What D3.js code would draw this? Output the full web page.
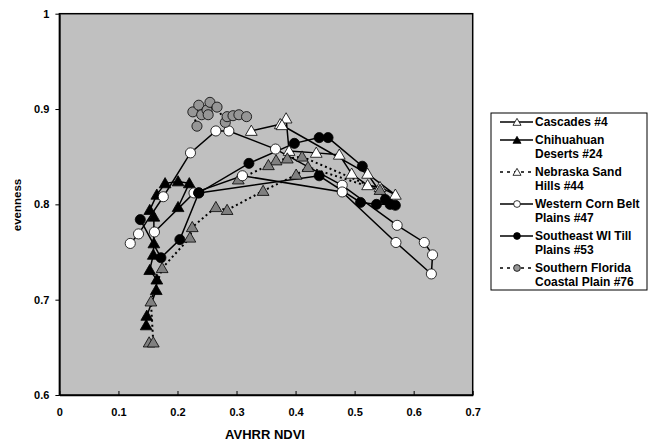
<!DOCTYPE html>
<html><head><meta charset="utf-8">
<script src="https://cdn.jsdelivr.net/npm/d3@7"></script>
<style>body{margin:0;background:#fff}svg{display:block}text{font-family:"Liberation Sans",Arial,sans-serif;font-weight:bold}</style>
</head><body>
<script>
const xTicks=[0,0.1,0.2,0.3,0.4,0.5,0.6,0.7];
const yTicks=[0.6,0.7,0.8,0.9,1];
const seriesNames=["Cascades #4","Chihuahuan Deserts #24","Nebraska Sand Hills #44","Western Corn Belt Plains #47","Southeast WI Till Plains #53","Southern Florida Coastal Plain #76"];
const legendLines=[["Cascades #4"],["Chihuahuan","Deserts #24"],["Nebraska Sand","Hills #44"],["Western Corn Belt","Plains #47"],["Southeast WI Till","Plains #53"],["Southern Florida","Coastal Plain #76"]];
const cascades=[[0.325,0.877],[0.374,0.884],[0.384,0.890],[0.389,0.856],[0.435,0.854],[0.474,0.852],[0.495,0.832],[0.522,0.820],[0.543,0.818],[0.569,0.810],[0.522,0.832],[0.377,0.883]];
const chihuahuan=[[0.147,0.673],[0.148,0.683],[0.164,0.710],[0.165,0.721],[0.153,0.731],[0.159,0.747],[0.160,0.759],[0.160,0.787],[0.153,0.794],[0.165,0.810],[0.179,0.822],[0.201,0.824],[0.220,0.822],[0.201,0.797]];
const nebraska=[[0.152,0.655],[0.159,0.655],[0.155,0.698],[0.174,0.733],[0.221,0.765],[0.225,0.776],[0.265,0.797],[0.284,0.794],[0.345,0.814],[0.401,0.831],[0.421,0.839],[0.543,0.815],[0.411,0.850],[0.386,0.848],[0.367,0.846],[0.354,0.841],[0.303,0.826]];
const cornBelt=[[0.120,0.759],[0.134,0.769],[0.176,0.808],[0.222,0.854],[0.265,0.877],[0.287,0.877],[0.366,0.858],[0.479,0.820],[0.572,0.778],[0.618,0.760],[0.632,0.747],[0.630,0.727],[0.570,0.760],[0.479,0.813],[0.310,0.830],[0.228,0.812],[0.161,0.771]];
const southeastWI=[[0.137,0.784],[0.172,0.744],[0.204,0.763],[0.236,0.812],[0.321,0.843],[0.398,0.864],[0.440,0.870],[0.455,0.870],[0.513,0.840],[0.552,0.805],[0.569,0.799],[0.560,0.800],[0.537,0.800],[0.510,0.802],[0.440,0.830],[0.236,0.812]];
const florida=[[0.233,0.882],[0.226,0.897],[0.236,0.904],[0.241,0.894],[0.250,0.899],[0.255,0.907],[0.252,0.894],[0.267,0.902],[0.281,0.886],[0.284,0.892],[0.294,0.893],[0.304,0.894],[0.317,0.892]];

const W=652,H=446;
const m={l:59.4,r:472.7,t:13.7,b:395};
const x=d3.scaleLinear().domain([0,0.7]).range([m.l,m.r]);
const y=d3.scaleLinear().domain([0.6,1]).range([m.b,m.t]);
const svg=d3.select("body").append("svg").attr("width",W).attr("height",H);
svg.append("rect").attr("x",m.l).attr("y",m.t).attr("width",m.r-m.l).attr("height",m.b-m.t).attr("fill","#c0c0c0");

const series=[
 {data:cascades,shape:"tri",fill:"#fff",dash:null},
 {data:chihuahuan,shape:"tri",fill:"#000",dash:null},
 {data:nebraska,shape:"tri",fill:"#808080",dash:"2,3"},
 {data:cornBelt,shape:"circ",fill:"#fff",dash:null},
 {data:southeastWI,shape:"circ",fill:"#000",dash:null},
 {data:florida,shape:"circ",fill:"#969696",dash:"2,3"}
];
const line=d3.line().x(d=>x(d[0])).y(d=>y(d[1]));
const triSym=d3.symbol().type(d3.symbolTriangle).size(60);
const cirSym=d3.symbol().type(d3.symbolCircle).size(80);
const plot=svg.append("g");
series.forEach(s=>{
  plot.append("path").attr("d",line(s.data)).attr("fill","none").attr("stroke","#000").attr("stroke-width",s.dash?2:1.5).attr("stroke-dasharray",s.dash);
});
series.forEach(s=>{
  plot.selectAll(null).data(s.data).enter().append("path")
   .attr("transform",d=>`translate(${x(d[0])},${y(d[1])+(s.shape==="tri"?1:0)})`)
   .attr("d",s.shape==="tri"?triSym():cirSym())
   .attr("fill",s.fill).attr("stroke","#000").attr("stroke-width",0.8);
});
svg.append("rect").attr("x",m.l).attr("y",m.t).attr("width",m.r-m.l).attr("height",m.b-m.t).attr("fill","none").attr("stroke","#000").attr("stroke-width",1.5);
const ax=svg.append("g").attr("transform",`translate(0,${m.b})`).call(d3.axisBottom(x).tickValues(xTicks).tickFormat(d=>d3.format("")(d)).tickSizeInner(-4).tickSizeOuter(0));
ax.select(".domain").attr("stroke","#000").attr("stroke-width",1.5);
ax.selectAll("text").attr("dy","0").attr("y",21).attr("font-size",11).attr("font-family","Liberation Sans").attr("font-weight","bold");
const ay=svg.append("g").attr("transform",`translate(${m.l},0)`).call(d3.axisLeft(y).tickValues(yTicks).tickFormat(d=>d3.format("")(d)).tickSizeInner(4).tickSizeOuter(0));
ay.select(".domain").attr("stroke","#000").attr("stroke-width",1.5);
ay.selectAll("text").attr("x",-10).attr("font-size",11).attr("font-family","Liberation Sans").attr("font-weight","bold");
svg.append("text").attr("x",265).attr("y",439).attr("text-anchor","middle").attr("font-size",13).text("AVHRR NDVI");
svg.append("text").attr("transform","translate(21,205) rotate(-90)").attr("text-anchor","middle").attr("font-size",11.5).text("evenness");

const lg=svg.append("g");
lg.append("rect").attr("x",491).attr("y",113).attr("width",156).attr("height",177).attr("fill","#fff").attr("stroke","#000").attr("stroke-width",1);
const entryCenters=[122,140,172,204,236,268];
const lineGap=13.7;
series.forEach((s,i)=>{
  const lines=legendLines[i];
  const cy=entryCenters[i];
  lg.append("line").attr("x1",500).attr("x2",533).attr("y1",cy).attr("y2",cy).attr("stroke","#000").attr("stroke-width",1.5).attr("stroke-dasharray",s.dash?"3,4":null);
  lg.append("path").attr("transform",`translate(517,${cy+(s.shape==="tri"?1:0)})`).attr("d",s.shape==="tri"?d3.symbol().type(d3.symbolTriangle).size(28)():d3.symbol().type(d3.symbolCircle).size(36)())
    .attr("fill",s.fill==="#808080"?"#fff":s.fill).attr("stroke","#000").attr("stroke-width",0.8);
  lines.forEach((t,j)=>{
    lg.append("text").attr("x",535).attr("y",cy+4.3+j*lineGap).attr("font-size",12).text(t);
  });
});
</script>
</body></html>
